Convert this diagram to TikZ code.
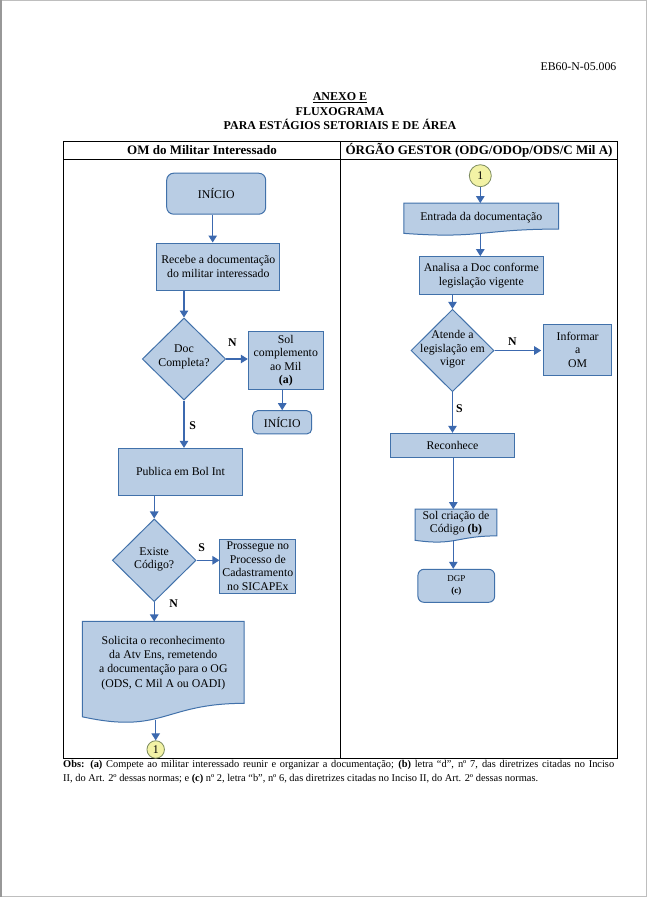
\documentclass[tikz,border=0pt]{standalone}
\usepackage{fontspec}
\setmainfont{Liberation Serif}
\usetikzlibrary{shapes.geometric,arrows.meta,calc}
\definecolor{boxfill}{RGB}{185,205,228}
\definecolor{boxdraw}{RGB}{65,113,170}
\definecolor{arrcol}{RGB}{60,105,175}
\definecolor{circfill}{RGB}{242,242,165}
\definecolor{circdraw}{RGB}{125,140,95}
\definecolor{pageframe}{RGB}{190,190,190}
\pgfdeclarelayer{bglayer}
\pgfsetlayers{bglayer,main}
\newcommand\docpath[1]{%
  \begin{pgfonlayer}{bglayer}
  \path[draw=boxdraw, fill=boxfill, line width=1pt]
    (#1.north west) -- (#1.north east) -- ($(#1.north east)!0.802!(#1.south east)$)
    .. controls ($(#1.north)!0.802!(#1.south)$) and ($(#1.north)!1.107!(#1.south)$) ..
    ($(#1.north west)!0.934!(#1.south west)$) -- cycle;
  \end{pgfonlayer}}
\begin{document}
\begin{tikzpicture}[x=1pt,y=-1pt,
  every node/.style={font=\fontsize{11.8}{13.5}\selectfont, inner sep=0pt},
  box/.style={draw=boxdraw, fill=boxfill, line width=1pt, rectangle, align=center},
  rbox/.style={box, rounded corners=7pt},
  dia/.style={draw=boxdraw, fill=boxfill, line width=1pt, diamond, inner sep=0pt},
  docnode/.style={rectangle, inner sep=0pt},
  conn/.style={draw=circdraw, fill=circfill, circle, line width=0.8pt, inner sep=0pt},
  arr/.style={draw=arrcol, line width=1.1pt, -{Triangle[width=8.5pt,length=7pt]}},
  lbl/.style={font=\bfseries\fontsize{11.8}{13.5}\selectfont},
  hdr/.style={font=\bfseries\fontsize{13}{15}\selectfont},
  ttl/.style={font=\bfseries\fontsize{12}{14}\selectfont},
]
\useasboundingbox (0,0) rectangle (648,897);
\begin{pgfonlayer}{bglayer}
\fill[white] (0,0) rectangle (648,897);
\end{pgfonlayer}
\draw[pageframe, line width=1.2pt] (0.6,0.6) rectangle (646.8,896.4);
\draw[pageframe!80!black, line width=1.6pt] (0.8,0) -- (0.8,897);

% header texts
\node[anchor=east] (code) at (616.5,67) {EB60-N-05.006};
\node[ttl] (t1) at (340,98) {\underline{ANEXO E}};
\node[ttl] (t2) at (340,111.5) {FLUXOGRAMA};
\node[ttl] (t3) at (340,124.5) {PARA ESTÁGIOS SETORIAIS E DE ÁREA};

% table
\draw[black, line width=1pt] (63,141) rectangle (617,758);
\draw[black, line width=1pt] (63,159.5) -- (617,159.5);
\draw[black, line width=1pt] (340.7,141) -- (340.7,758);
\node[hdr] (h1) at (202,150.5) {OM do Militar Interessado};
\node[hdr] (h2) at (479,150.5) {ÓRGÃO GESTOR (ODG/ODOp/ODS/C Mil A)};

% left column
\node[rbox, minimum width=99pt, minimum height=41pt] (ini1) at (216.2,193.7) {INÍCIO};
\node[box, minimum width=123.3pt, minimum height=47pt] (rec) at (218.3,266.5) {Recebe a documentação\\do militar interessado};
\node[dia, minimum width=83.4pt, minimum height=82pt,
  label={[align=center, yshift=2pt]center:Doc\\Completa?}] (d1) at (184,359) {};
\node[box, minimum width=75pt, minimum height=57.6pt] (sol) at (285.8,360.5) {Sol\\complemento\\ao Mil\\\textbf{(a)}};
\node[rbox, rounded corners=5pt, minimum width=59pt, minimum height=23.3pt] (ini2) at (282.2,422.3) {INÍCIO};
\node[box, minimum width=124.4pt, minimum height=46.7pt] (pub) at (180.5,471.7) {Publica em Bol Int};
\node[dia, minimum width=83.7pt, minimum height=82.7pt,
  label={[align=center, yshift=1pt]center:Existe\\Código?}] (d2) at (154.2,560.3) {};
\node[box, minimum width=75.7pt, minimum height=54pt] (pro) at (257.8,566.3) {Prossegue no\\Processo de\\Cadastramento\\no SICAPEx};
\node[docnode, minimum width=161.3pt, minimum height=101.7pt,
  label={[align=center, yshift=9.5pt, font=\fontsize{11.8}{14.2}\selectfont]center:Solicita o reconhecimento\\da Atv Ens, remetendo\\a documentação para o OG\\(ODS, C Mil A ou OADI)}] (doc1) at (163.3,672.5) {};
\docpath{doc1}
\coordinate (doc1b) at (155.7,719.5);
\node[conn, minimum size=17.5pt] (c1) at (155.7,749.5) {1};

\node[lbl] (n1) at (232.3,342.7) {N};
\node[lbl] (s1) at (192.7,426) {S};
\node[lbl] (s2) at (201.7,547.7) {S};
\node[lbl] (n2) at (173.7,603.3) {N};

\draw[arr] ([xshift=-3.5pt]ini1.south) -- ([xshift=-3.5pt]ini1.south |- rec.north);
\draw[arr] (d1.north |- rec.south) -- (d1.north);
\draw[arr] (d1.east) -- (d1.east -| sol.west);
\draw[arr] (ini2.north |- sol.south) -- (ini2.north);
\draw[arr] (d1.south) -- (d1.south |- pub.north);
\draw[arr] (d2.north |- pub.south) -- (d2.north);
\draw[arr] (d2.east) -- (d2.east -| pro.west);
\draw[arr] (d2.south) -- (d2.south |- doc1.north);
\draw[arr] (doc1b) -- (c1.north);

% right column
\node[conn, minimum size=22pt] (c2) at (480.3,175.7) {1};
\node[docnode, minimum width=154.3pt, minimum height=32pt,
  label={[yshift=1.3pt]center:Entrada da documentação}] (ent) at (481.2,219.3) {};
\docpath{ent}
\coordinate (entb) at (480.3,233.2);
\node[box, minimum width=124pt, minimum height=37.7pt] (ana) at (481.3,275.5) {Analisa a Doc conforme\\legislação vigente};
\node[dia, minimum width=83pt, minimum height=82.4pt,
  label={[align=center, yshift=1pt]center:Atende a\\legislação em\\vigor}] (d3) at (452.5,350.5) {};
\node[box, minimum width=68pt, minimum height=51pt] (inf) at (577.7,349.8) {Informar\\a\\OM};
\node[box, minimum width=124.4pt, minimum height=24pt] (rec2) at (452.5,445.3) {Reconhece};
\node[docnode, minimum width=81.4pt, minimum height=33pt,
  label={[align=center, yshift=2.5pt]center:Sol criação de\\Código \textbf{(b)}}] (sc) at (456,525.8) {};
\docpath{sc}
\coordinate (scb) at (453.3,540.3);
\node[rbox, rounded corners=6pt, minimum width=76.7pt, minimum height=33pt,
  font=\fontsize{9}{11.7}\selectfont] (dgp) at (456.3,585.8) {DGP\\\textbf{(c)}};

\node[lbl] (n3) at (512.3,341.7) {N};
\node[lbl] (s3) at (459.3,408.3) {S};

\draw[arr] (c2.south) -- (c2.south |- ent.north);
\draw[arr] (entb) -- (entb |- ana.north);
\draw[arr] (d3.north |- ana.south) -- (d3.north);
\draw[arr] (d3.east) -- ([xshift=-2pt]d3.east -| inf.west);
\draw[arr] (d3.south) -- (d3.south |- rec2.north);
\draw[arr] (scb |- rec2.south) -- (scb |- sc.north);
\draw[arr] (scb) -- (scb |- dgp.north);

% notes
\node[anchor=north west, align=left, font=\fontsize{10.4}{14}\selectfont] (obs) at (63,760) {\hbox to 551pt{\textbf{Obs: (a)} Compete ao militar interessado reunir e organizar a documentação; \textbf{(b)} letra “d”, nº 7, das diretrizes citadas no Inciso}\\II, do Art. 2º dessas normas; e \textbf{(c)} nº 2, letra “b”, nº 6, das diretrizes citadas no Inciso II, do Art. 2º dessas normas.};
\end{tikzpicture}
\end{document}
